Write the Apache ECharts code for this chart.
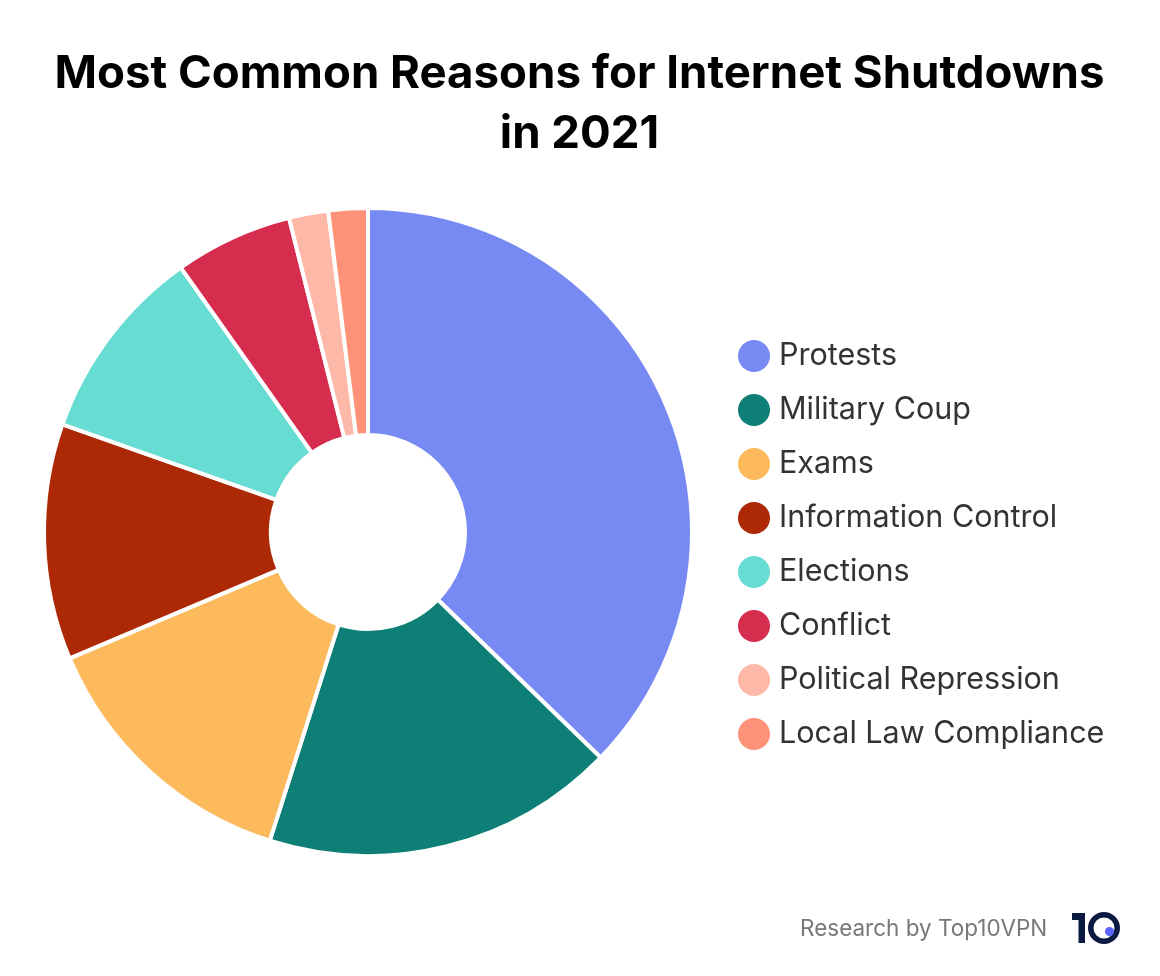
<!DOCTYPE html>
<html>
<head>
<meta charset="utf-8">
<title>Most Common Reasons for Internet Shutdowns in 2021</title>
<style>
html, body { margin: 0; padding: 0; background: #fff; }
#main { width: 1160px; height: 976px; }
</style>
</head>
<body>
<div id="main"></div>
<script src="https://cdn.jsdelivr.net/npm/echarts@6/dist/echarts.min.js"></script>
<script>
var reasons = ['Protests', 'Military Coup', 'Exams', 'Information Control', 'Elections', 'Conflict', 'Political Repression', 'Local Law Compliance'];
var shutdowns = [19, 9, 7, 6, 5, 3, 1, 1];
var colours = ['#7789F2', '#0E7F76', '#FCBA5C', '#AD2906', '#67DCD3', '#D62D4F', '#FDB8A8', '#FD9279'];
var titleLines = 'Most Common Reasons for Internet Shutdowns\nin 2021';
var credit = 'Research by Top10VPN';

var myChart = echarts.init(document.getElementById('main'));
myChart.setOption({
    animation: false,
    backgroundColor: '#fff',
    color: colours,
    title: {
        text: titleLines,
        left: 574.5,
        top: 39,
        textAlign: 'center',
        textStyle: { fontFamily: 'Inter', fontWeight: 700, fontSize: 45.6, lineHeight: 60, color: '#000' }
    },
    legend: {
        orient: 'vertical',
        left: 733,
        top: 335,
        icon: 'circle',
        itemWidth: 32,
        itemHeight: 32,
        itemGap: 22,
        selectedMode: false,
        itemStyle: { borderWidth: 0 },
        textStyle: { fontFamily: 'Inter', fontSize: 30.5, lineHeight: 30, color: '#333', padding: [2, 0, 0, 4] },
        data: reasons
    },
    series: [{
        type: 'pie',
        center: [368, 532],
        radius: [97, 324],
        startAngle: 90,
        clockwise: true,
        label: { show: false },
        labelLine: { show: false },
        itemStyle: { borderColor: '#fff', borderWidth: 4 },
        data: reasons.map(function (name, i) {
            return { name: name, value: shutdowns[i] };
        })
    }],
    graphic: [
        { type: 'text', left: 800, top: 918, style: { text: credit, font: '22.5px Inter', fill: '#77777C' } },
        // logo
        { type: 'polygon', shape: { points: [[1072, 913], [1085, 913], [1085, 943], [1078.5, 943], [1078.5, 920], [1072, 920]] }, style: { fill: '#0B1A40' } },
        { type: 'ring', shape: { cx: 1104, cy: 928, r: 16, r0: 10.5 }, style: { fill: '#0B1A40' } },
        { type: 'circle', shape: { cx: 1109.5, cy: 931.5, r: 4.5 }, style: { fill: '#5B63FF' } }
    ]
});
</script>
</body>
</html>
